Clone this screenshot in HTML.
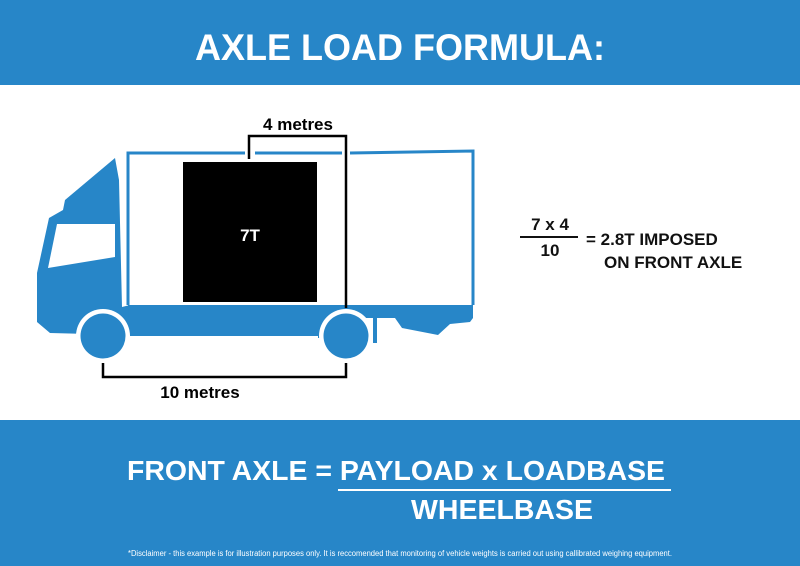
<!DOCTYPE html>
<html><head><meta charset="utf-8"><style>
html,body{margin:0;padding:0;background:#fff}
svg{display:block}
text{font-family:"Liberation Sans",Arial,sans-serif;font-weight:bold}
</style></head><body>
<svg width="800" height="566" viewBox="0 0 800 566" xmlns="http://www.w3.org/2000/svg">
<rect x="0" y="0" width="800" height="85" fill="#2786c8"/>
<text x="400" y="60" font-size="37" fill="#fff" text-anchor="middle" textLength="410" lengthAdjust="spacingAndGlyphs">AXLE LOAD FORMULA:</text>

<!-- truck cab -->
<polygon fill="#2786c8" points="65,200 115,158 119,180 122,307 130,305 130,335 50,333 37,322 37,273 49,218 63,210"/>
<polygon fill="#fff" points="57,224 115,224 115,257 48,268"/>
<!-- chassis strip -->
<polygon fill="#2786c8" points="128,305 473,305 473,318 470,322 450,324 438,335 402,328 395,318 377,318 350,318 350,338 318,338 318,336 130,336"/>
<rect x="373" y="305" width="4" height="38" fill="#2786c8"/>
<!-- box outline -->
<g stroke="#2786c8" stroke-width="3" fill="none">
<polyline points="128,305 128,153 245,153"/>
<line x1="255" y1="153" x2="342" y2="153"/>
<polyline points="350,153 473,151 473,305"/>
</g>
<!-- wheels -->
<circle cx="103" cy="336" r="27" fill="#fff"/>
<circle cx="103" cy="336" r="22.5" fill="#2786c8"/>
<circle cx="346" cy="336" r="27" fill="#fff"/>
<circle cx="346" cy="336" r="22.5" fill="#2786c8"/>
<!-- load -->
<rect x="183" y="162" width="134" height="140" fill="#000"/>
<text x="250" y="241" font-size="17" fill="#fff" text-anchor="middle">7T</text>
<!-- 4 metres bracket -->
<polyline points="249,159 249,136 346,136 346,308" fill="none" stroke="#000" stroke-width="2.5"/>
<text x="298" y="130" font-size="17" fill="#000" text-anchor="middle">4 metres</text>
<!-- 10 metres bracket -->
<polyline points="103,363 103,377 346,377 346,363" fill="none" stroke="#000" stroke-width="2.5"/>
<text x="200" y="398" font-size="17" fill="#000" text-anchor="middle">10 metres</text>

<!-- calculation -->
<text x="550" y="230" font-size="17" fill="#111" text-anchor="middle">7 x 4</text>
<line x1="520" y1="237" x2="578" y2="237" stroke="#111" stroke-width="2"/>
<text x="550" y="256" font-size="17" fill="#111" text-anchor="middle">10</text>
<text x="586" y="245" font-size="17" fill="#111">= 2.8T IMPOSED</text>
<text x="604" y="268" font-size="17" fill="#111">ON FRONT AXLE</text>

<!-- bottom banner -->
<rect x="0" y="420" width="800" height="146" fill="#2786c8"/>
<text x="127" y="480" font-size="28" fill="#fff" textLength="538" lengthAdjust="spacingAndGlyphs">FRONT AXLE = PAYLOAD x LOADBASE</text>
<line x1="338" y1="490" x2="671" y2="490" stroke="#fff" stroke-width="2"/>
<text x="502" y="519" font-size="28" fill="#fff" text-anchor="middle" textLength="182" lengthAdjust="spacingAndGlyphs">WHEELBASE</text>
<text x="400" y="556" font-size="8" fill="#fff" font-weight="normal" style="font-weight:normal" text-anchor="middle" textLength="544" lengthAdjust="spacingAndGlyphs">*Disclaimer - this example is for illustration purposes only. It is reccomended that monitoring of vehicle weights is carried out using callibrated weighing equipment.</text>
</svg>
</body></html>
